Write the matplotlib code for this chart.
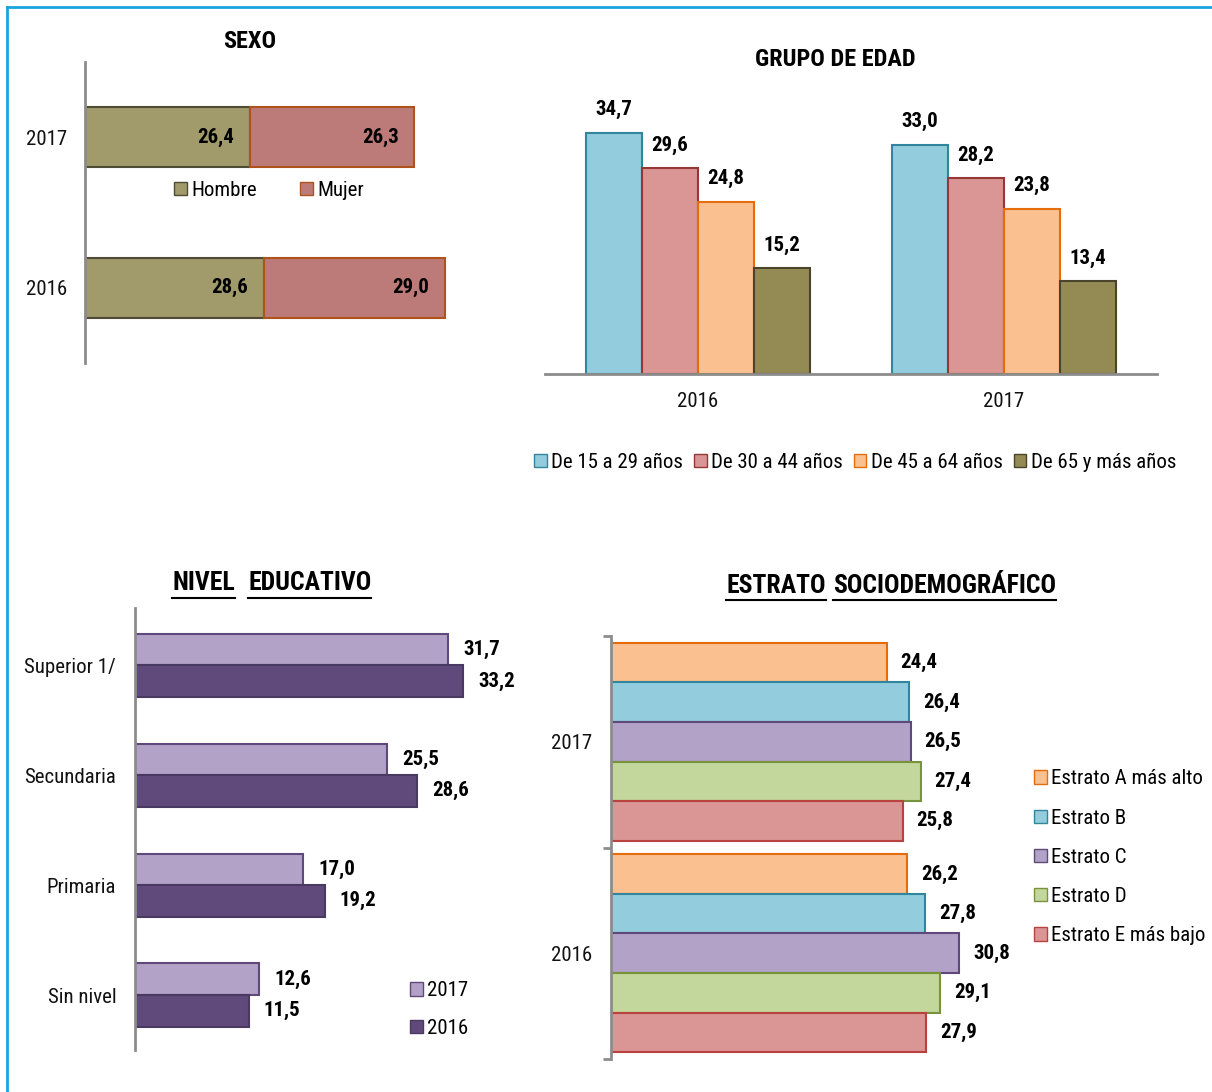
import numpy as np
import matplotlib
matplotlib.use("Agg")
import matplotlib.pyplot as plt
from matplotlib.patches import Patch
from matplotlib.lines import Line2D

plt.rcParams['font.family'] = ['Roboto Condensed', 'DejaVu Sans']

# --- data ---
sexo_years = ["2016", "2017"]
hombre = [28.6, 26.4]
mujer = [29.0, 26.3]

edad_years = ["2016", "2017"]
edad_groups = ["De 15 a 29 años", "De 30 a 44 años", "De 45 a 64 años", "De 65 y más años"]
edad_vals = [[34.7, 33.0], [29.6, 28.2], [24.8, 23.8], [15.2, 13.4]]

nivel_cats = ["Sin nivel", "Primaria", "Secundaria", "Superior 1/"]
nivel_2017 = [12.6, 17.0, 25.5, 31.7]
nivel_2016 = [11.5, 19.2, 28.6, 33.2]

estrato_years = ["2016", "2017"]
estrato_names = ["Estrato A más alto", "Estrato B", "Estrato C", "Estrato D", "Estrato E más bajo"]
estrato_vals = [[26.2, 24.4], [27.8, 26.4], [30.8, 26.5], [29.1, 27.4], [27.9, 25.8]]

W, H = 1212, 1092
fig = plt.figure(figsize=(W / 100, H / 100), dpi=100)
FS = 15
TFS = 17.5
GRAY = "#8c8c8c"


def axes_px(x0, y0, x1, y1):
    # pixel box -> figure fraction
    return fig.add_axes([x0 / W, 1 - y1 / H, (x1 - x0) / W, (y1 - y0) / H])


def fmt(v):
    return f"{v:.1f}".replace(".", ",")


def clean(ax, left=True, bottom=False):
    for s in ax.spines.values():
        s.set_visible(False)
    if left:
        ax.spines["left"].set_visible(True)
        ax.spines["left"].set_color(GRAY)
        ax.spines["left"].set_linewidth(2)
    if bottom:
        ax.spines["bottom"].set_visible(True)
        ax.spines["bottom"].set_color(GRAY)
        ax.spines["bottom"].set_linewidth(2)
    ax.tick_params(length=0, labelsize=FS, colors="#111111")


# border lines
fig.add_artist(Line2D([7 / W, 1], [1 - 7 / H, 1 - 7 / H], color="#1aa3e0", lw=2))
fig.add_artist(Line2D([7 / W, 7 / W], [0, 1 - 7 / H], color="#1aa3e0", lw=2))

# ---- SEXO ----
ax1 = axes_px(85, 62, 497, 363)
y = np.arange(len(sexo_years))
ax1.barh(y, hombre, height=0.4, color="#a19a6a", edgecolor="#4f4b35", lw=1.5)
ax1.barh(y, mujer, left=hombre, height=0.4, color="#bc7a78", edgecolor="#b0521c", lw=1.5)
for i in y:
    ax1.annotate(fmt(hombre[i]), (hombre[i], i), xytext=(-11, 0), textcoords="offset points",
                 ha="right", va="center", fontsize=FS, fontweight="bold")
    ax1.annotate(fmt(mujer[i]), (hombre[i] + mujer[i], i), xytext=(-11, 0), textcoords="offset points",
                 ha="right", va="center", fontsize=FS, fontweight="bold")
ax1.set_xlim(0, 66)
ax1.set_ylim(-0.5, 1.5)
ax1.set_yticks(y, sexo_years)
ax1.set_xticks([])
clean(ax1)
ax1.tick_params(axis="y", pad=13)
fig.text(250 / W, 1 - 41 / H, "SEXO", ha="center", va="center", fontsize=TFS, fontweight="bold")
fig.legend(handles=[Patch(fc="#a19a6a", ec="#4f4b35", label="Hombre"),
                    Patch(fc="#bc7a78", ec="#b0521c", label="Mujer")],
           loc="center", bbox_to_anchor=(269 / W, 1 - 190 / H), ncol=2, frameon=False,
           fontsize=FS, handlelength=0.6, handleheight=0.6, handletextpad=0.2,
           columnspacing=2.1, borderpad=0)

# ---- GRUPO DE EDAD ----
ax2 = axes_px(545, 89, 1157, 374)
edad_fc = ["#93cddd", "#d99694", "#fac090", "#948a54"]
edad_ec = ["#31859c", "#953735", "#e46c0a", "#4a452a"]
x = np.arange(len(edad_years))
bw = 0.183
for k, vals in enumerate(edad_vals):
    pos = x + (k - 1.5) * bw
    ax2.bar(pos, vals, width=bw, color=edad_fc[k], edgecolor=edad_ec[k], lw=1.5, label=edad_groups[k])
    for p, v in zip(pos, vals):
        ax2.annotate(fmt(v), (p, v), xytext=(0, 16.5), textcoords="offset points",
                     ha="center", va="center", fontsize=FS, fontweight="bold")
ax2.set_xlim(-0.5, 1.5)
ax2.set_ylim(0, 41)
ax2.set_xticks(x, edad_years)
ax2.set_yticks([])
clean(ax2, left=False, bottom=True)
ax2.tick_params(axis="x", pad=13)
fig.text(835 / W, 1 - 59 / H, "GRUPO DE EDAD", ha="center", va="center", fontsize=TFS, fontweight="bold")
fig.legend(handles=[Patch(fc=edad_fc[k], ec=edad_ec[k], label=edad_groups[k]) for k in range(4)],
           loc="center", bbox_to_anchor=(855 / W, 1 - 462 / H), ncol=4, frameon=False,
           fontsize=FS, handlelength=0.6, handleheight=0.6, handletextpad=0.2,
           columnspacing=0.55, borderpad=0)

# ---- NIVEL EDUCATIVO ----
ax3 = axes_px(135, 608, 520, 1050)
yc = np.arange(len(nivel_cats))
bh = 0.287
ax3.barh(yc + bh / 2, nivel_2017, height=bh, color="#b3a2c7", edgecolor="#5f497a", lw=1.5)
ax3.barh(yc - bh / 2, nivel_2016, height=bh, color="#604a7b", edgecolor="#4a3960", lw=1.5)
for i in yc:
    ax3.annotate(fmt(nivel_2017[i]), (nivel_2017[i], i + bh / 2), xytext=(11, 0), textcoords="offset points",
                 ha="left", va="center", fontsize=FS, fontweight="bold")
    ax3.annotate(fmt(nivel_2016[i]), (nivel_2016[i], i - bh / 2), xytext=(11, 0), textcoords="offset points",
                 ha="left", va="center", fontsize=FS, fontweight="bold")
ax3.set_xlim(0, 39)
ax3.set_ylim(-0.5, 3.52)
ax3.set_yticks(yc, nivel_cats)
ax3.set_xticks([])
clean(ax3)
ax3.tick_params(axis="y", pad=13.5)
fig.legend(handles=[Patch(fc="#b3a2c7", ec="#5f497a", label="2017"),
                    Patch(fc="#604a7b", ec="#4a3960", label="2016")],
           loc="upper left", bbox_to_anchor=(400 / W, 1 - 971 / H), frameon=False,
           fontsize=FS, handlelength=0.6, handleheight=0.6, handletextpad=0.2,
           labelspacing=0.9, borderpad=0)

# ---- ESTRATO SOCIODEMOGRAFICO ----
ax4 = axes_px(611, 636, 1018, 1059)
est_fc = ["#fac090", "#93cddd", "#b3a2c7", "#c3d69b", "#d99694"]
est_ec = ["#e46c0a", "#31859c", "#5f497a", "#77933c", "#b9423f"]
ye = np.arange(len(estrato_years))
eh = 0.187
for k, vals in enumerate(estrato_vals):
    pos = ye + (2 - k) * eh
    ax4.barh(pos, vals, height=eh, color=est_fc[k], edgecolor=est_ec[k], lw=1.5)
    for p, v in zip(pos, vals):
        ax4.annotate(fmt(v), (v, p), xytext=(10, 0), textcoords="offset points",
                     ha="left", va="center", fontsize=FS, fontweight="bold")
ax4.set_xlim(0, 36)
ax4.set_ylim(-0.5, 1.5)
ax4.set_yticks(ye, estrato_years)
ax4.set_yticks([-0.5, 0.5, 1.5], minor=True)
ax4.set_xticks([])
clean(ax4)
ax4.tick_params(axis="y", pad=13.5)
ax4.tick_params(axis="y", which="minor", length=6, width=2, color=GRAY)
fig.legend(handles=[Patch(fc=est_fc[k], ec=est_ec[k], label=estrato_names[k]) for k in range(5)],
           loc="upper left", bbox_to_anchor=(1024 / W, 1 - 759 / H), frameon=False,
           fontsize=FS, handlelength=0.6, handleheight=0.6, handletextpad=0.2,
           labelspacing=0.97, borderpad=0)


# underlined titles: words centred as a group, each word underlined on its own
def underlined(words, xc_px, gap_px, yc_px, yline_px, size=18.5):
    r = fig.canvas.get_renderer()
    texts = [fig.text(0, 1 - yc_px / H, w, ha="left", va="center", fontsize=size, fontweight="bold")
             for w in words]
    widths = [t.get_window_extent(r).width for t in texts]
    total = sum(widths) + gap_px * (len(words) - 1)
    x0 = xc_px - total / 2
    for t, w in zip(texts, widths):
        t.set_x(x0 / W)
        fig.add_artist(Line2D([x0 / W, (x0 + w) / W], [1 - yline_px / H] * 2, color="black", lw=1.5))
        x0 += w + gap_px


underlined(["NIVEL", "EDUCATIVO"], 272, 13, 583, 598)
underlined(["ESTRATO", "SOCIODEMOGRÁFICO"], 891, 7, 586, 600)

fig.savefig("out.png", dpi=100)
